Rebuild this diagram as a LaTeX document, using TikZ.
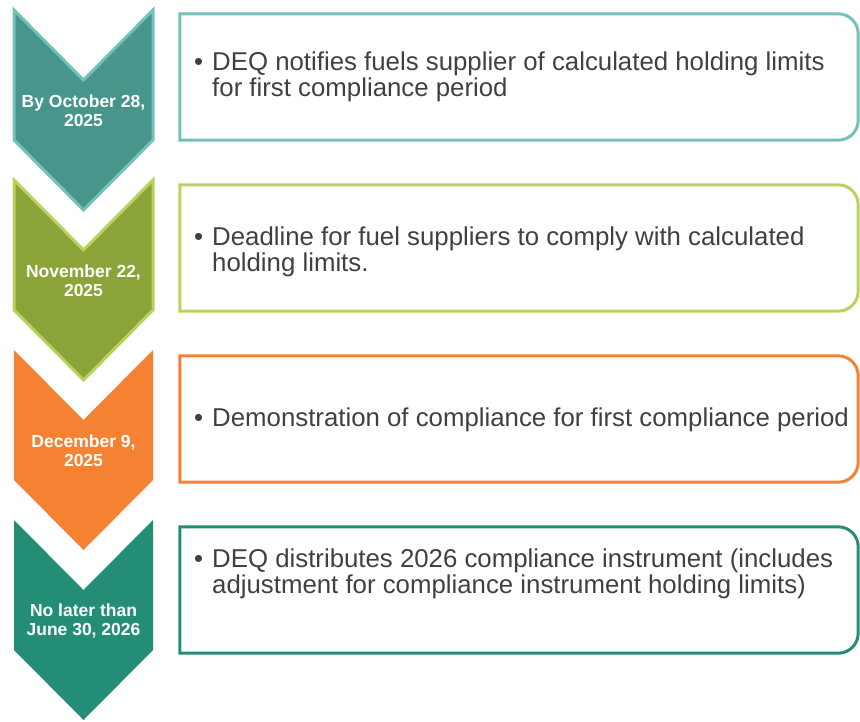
\documentclass[tikz,border=0pt]{standalone}
\usepackage{fontspec}
\setmainfont{Liberation Sans}
\usetikzlibrary{positioning}

\definecolor{tealfill}{HTML}{48958C}
\definecolor{tealline}{HTML}{74C2B7}
\definecolor{olivefill}{HTML}{8BA43A}
\definecolor{oliveline}{HTML}{B7D25D}
\definecolor{orangefill}{HTML}{F58233}
\definecolor{greenfill}{HTML}{238D76}
\definecolor{bodygrey}{HTML}{404040}

\tikzset{
  chev/.style={line width=3pt, line join=miter},
  datelbl/.style={text=white, align=center, inner sep=0pt,
    font=\bfseries\fontsize{17.5}{19}\selectfont},
  boxarea/.style={minimum width=678pt, minimum height=126pt, inner sep=0pt},
  frame/.style={line width=3pt},
  boxtxt/.style={anchor=west, text=bodygrey, inner sep=0pt,
    font=\fontsize{25.8}{26.5}\selectfont},
}

\newcommand{\itemlines}[1]{\begin{tabular}{@{}l@{\hspace{9pt}}l@{}}#1\end{tabular}}

\begin{document}
\begin{tikzpicture}[x=1pt, y=-1pt]
\useasboundingbox (0,0) rectangle (860,721);

\filldraw[chev, fill=tealfill, draw=tealline]
  (14,10) -- (83.5,80) -- (153,10) -- (153,140) -- (83.5,210) -- (14,140) -- cycle;
\node[datelbl] (date1) at (83.5,111) {By October 28,\\2025};

\filldraw[chev, fill=olivefill, draw=oliveline]
  (14,180) -- (83.5,250) -- (153,180) -- (153,310) -- (83.5,380) -- (14,310) -- cycle;
\node[datelbl] (date2) at (83.5,281) {November 22,\\2025};

\fill[orangefill]
  (14,350) -- (83.5,420) -- (153,350) -- (153,480) -- (83.5,550) -- (14,480) -- cycle;
\node[datelbl] (date3) at (83.5,451) {December 9,\\2025};

\fill[greenfill]
  (14,520) -- (83.5,590) -- (153,520) -- (153,650) -- (83.5,720) -- (14,650) -- cycle;
\node[datelbl] (date4) at (83.5,621) {No later than\\June 30, 2026};

\node[boxarea] (box1) at (519,77) {};
\draw[frame, draw=tealline] (box1.south west) -- (box1.north west)
  -- ([xshift=-20pt]box1.north east) arc[start angle=90, end angle=0, radius=20pt]
  -- ([yshift=20pt]box1.south east) arc[start angle=0, end angle=-90, radius=20pt] -- cycle;
\node[boxtxt] (txt1) at (194,78) {\itemlines{\textbullet & DEQ notifies fuels supplier of calculated holding limits\\ & for first compliance period}};

\node[boxarea] (box2) at (519,248) {};
\draw[frame, draw=oliveline] (box2.south west) -- (box2.north west)
  -- ([xshift=-20pt]box2.north east) arc[start angle=90, end angle=0, radius=20pt]
  -- ([yshift=20pt]box2.south east) arc[start angle=0, end angle=-90, radius=20pt] -- cycle;
\node[boxtxt] (txt2) at (194,253) {\itemlines{\textbullet & Deadline for fuel suppliers to comply with calculated\\ & holding limits.}};

\node[boxarea] (box3) at (519,419) {};
\draw[frame, draw=orangefill] (box3.south west) -- (box3.north west)
  -- ([xshift=-20pt]box3.north east) arc[start angle=90, end angle=0, radius=20pt]
  -- ([yshift=20pt]box3.south east) arc[start angle=0, end angle=-90, radius=20pt] -- cycle;
\node[boxtxt] (txt3) at (194,421) {\itemlines{\textbullet & Demonstration of compliance for first compliance period}};

\node[boxarea] (box4) at (519,590) {};
\draw[frame, draw=greenfill] (box4.south west) -- (box4.north west)
  -- ([xshift=-20pt]box4.north east) arc[start angle=90, end angle=0, radius=20pt]
  -- ([yshift=20pt]box4.south east) arc[start angle=0, end angle=-90, radius=20pt] -- cycle;
\node[boxtxt] (txt4) at (194,575) {\itemlines{\textbullet & DEQ distributes 2026 compliance instrument (includes\\ & adjustment for compliance instrument holding limits)}};
\end{tikzpicture}
\end{document}
